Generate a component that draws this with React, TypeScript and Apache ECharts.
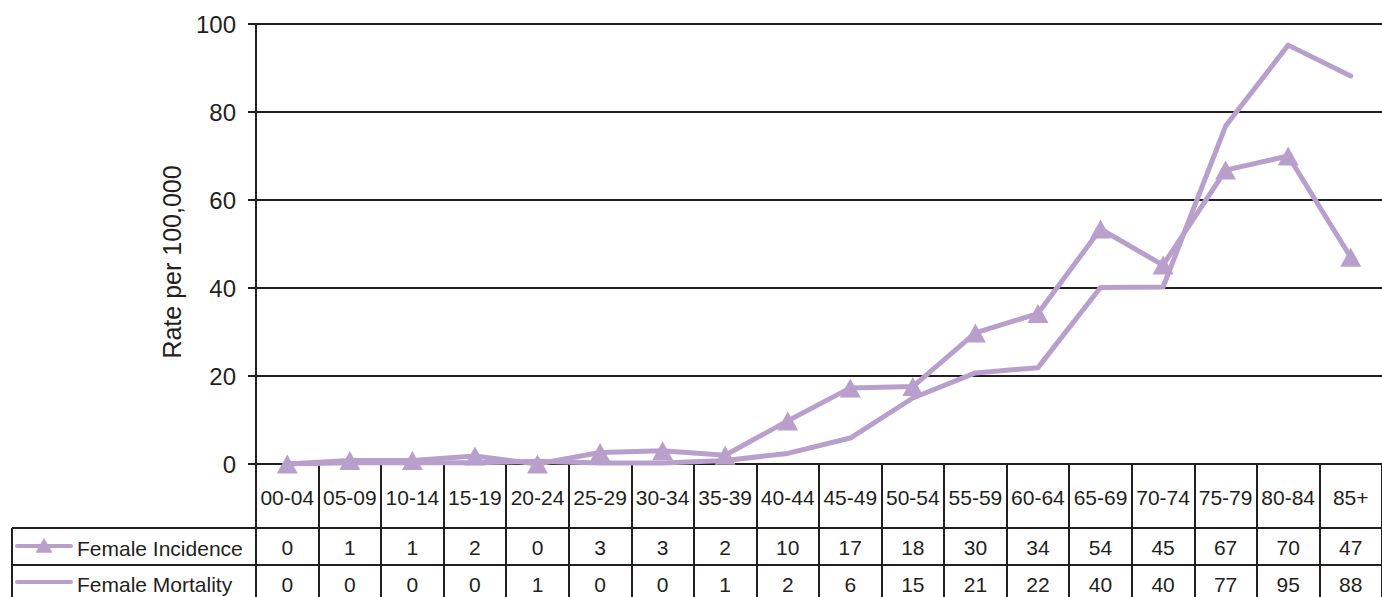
import React, { useEffect, useRef } from "react";
import * as echarts from "echarts";

const categories = ["00-04","05-09","10-14","15-19","20-24","25-29","30-34","35-39","40-44","45-49","50-54","55-59","60-64","65-69","70-74","75-79","80-84","85+"];
const incidence = [0, 0.8, 0.8, 1.8, 0, 2.6, 3.0, 2.0, 9.8, 17.3, 17.6, 29.8, 34.2, 53.4, 45.2, 66.8, 70.0, 47.0];
const mortality = [0, 0.3, 0.3, 0.3, 0.6, 0.2, 0.2, 0.8, 2.4, 5.9, 15.0, 20.7, 21.9, 40.1, 40.2, 76.8, 95.2, 88.2];
const incidenceTable = ["0","1","1","2","0","3","3","2","10","17","18","30","34","54","45","67","70","47"];
const mortalityTable = ["0","0","0","0","1","0","0","1","2","6","15","21","22","40","40","77","95","88"];
const yTicks = { min: 0, max: 100, interval: 20 };
const seriesNames = ["Female Incidence", "Female Mortality"];
const yTitle = "Rate per 100,000";

const INK = "#231F20";
const LAV = "#B9A0CC";
const FONT = "'Liberation Sans', Arial, Helvetica, sans-serif";

export default function App() {
  const ref = useRef<HTMLDivElement>(null);
  useEffect(() => {
    if (!ref.current) return;
    const chart = echarts.init(ref.current, null, { renderer: "svg" });
    const W = 1382;
    const gridLeft = 256, gridTop = 24, gridBottomY = 464;
    const rightEdge = 1388;
    const row1 = 528, row2 = 565;
    const tableLeft = 12;
    const rowMid1 = 547, rowMid2 = 584;
    const iconX1 = 17, iconX2 = 71, textX = 77;
    const triCx = 44, triW = 17, triH = 15;
    const legendGraphics: any[] = [
      { type: "line", shape: { x1: iconX1, y1: rowMid1 - 1, x2: iconX2, y2: rowMid1 - 1 }, style: { stroke: LAV, lineWidth: 4, lineCap: "round" } },
      {
        type: "polygon",
        shape: { points: [[triCx, rowMid1 - 1 - triH * 0.55], [triCx + triW / 2, rowMid1 - 1 + triH * 0.45], [triCx - triW / 2, rowMid1 - 1 + triH * 0.45]] },
        style: { fill: LAV },
      },
      { type: "text", x: textX, y: rowMid1 + 1, style: { text: seriesNames[0], fontSize: 21, fill: INK, fontFamily: FONT, align: "left", verticalAlign: "middle" } },
      { type: "line", shape: { x1: iconX1, y1: rowMid2 - 2, x2: iconX2, y2: rowMid2 - 2 }, style: { stroke: LAV, lineWidth: 4, lineCap: "round" } },
      { type: "text", x: textX, y: rowMid2, style: { text: seriesNames[1], fontSize: 21, fill: INK, fontFamily: FONT, align: "left", verticalAlign: "middle" } },
    ];
    chart.setOption({
      animation: false,
      backgroundColor: "#ffffff",
      textStyle: { fontFamily: FONT, color: INK },
      grid: { left: gridLeft, top: gridTop, right: W - rightEdge, bottom: 597 - gridBottomY, containLabel: false },
      xAxis: [
        {
          type: "category",
          data: categories,
          boundaryGap: true,
          axisLine: { show: true, lineStyle: { color: INK, width: 2 } },
          axisTick: { show: true, interval: 0, length: 140, lineStyle: { color: INK, width: 2 } },
          axisLabel: { interval: 0, margin: 33, verticalAlign: "middle", fontSize: 21, color: INK, fontFamily: FONT },
          splitLine: { show: false },
        },
        {
          type: "category",
          data: incidenceTable,
          position: "bottom",
          offset: 83,
          axisLine: { show: false },
          axisTick: { show: false },
          axisLabel: { interval: 0, margin: 0, verticalAlign: "middle", fontSize: 21, color: INK, fontFamily: FONT },
        },
        {
          type: "category",
          data: mortalityTable,
          position: "bottom",
          offset: 120,
          axisLine: { show: false },
          axisTick: { show: false },
          axisLabel: { interval: 0, margin: 0, verticalAlign: "middle", fontSize: 21, color: INK, fontFamily: FONT },
        },
      ],
      yAxis: {
        type: "value",
        min: yTicks.min,
        max: yTicks.max,
        interval: yTicks.interval,
        axisLine: { show: true, lineStyle: { color: INK, width: 2 } },
        axisTick: { show: true, length: 8, lineStyle: { color: INK, width: 2 } },
        axisLabel: { margin: 20, fontSize: 24, color: INK, fontFamily: FONT },
        splitLine: { show: true, lineStyle: { color: INK, width: 2 } },
      },
      series: [
        {
          name: seriesNames[1],
          type: "line",
          data: mortality,
          symbol: "none",
          lineStyle: { color: LAV, width: 5, cap: "round", join: "round" },
          itemStyle: { color: LAV },
          z: 3,
        },
        {
          name: seriesNames[0],
          type: "line",
          data: incidence,
          symbol: "triangle",
          symbolSize: [21, 19],
          lineStyle: { color: LAV, width: 5, cap: "round", join: "round" },
          itemStyle: { color: LAV },
          z: 4,
        },
      ],
      graphic: [
        { type: "line", shape: { x1: tableLeft, y1: row1, x2: rightEdge, y2: row1 }, style: { stroke: INK, lineWidth: 2 } },
        { type: "line", shape: { x1: tableLeft, y1: row2, x2: rightEdge, y2: row2 }, style: { stroke: INK, lineWidth: 2 } },
        { type: "line", shape: { x1: tableLeft, y1: row1, x2: tableLeft, y2: 600 }, style: { stroke: INK, lineWidth: 2 } },
        ...legendGraphics,
        {
          type: "text",
          x: 172,
          y: 262,
          rotation: Math.PI / 2,
          style: { text: yTitle, fontSize: 25, fill: INK, fontFamily: FONT, align: "center", verticalAlign: "middle" },
        },
      ],
    });
    return () => chart.dispose();
  }, []);
  return <div ref={ref} style={{ position: "absolute", left: 0, top: 0, width: 1382, height: 597 }} />;
}
